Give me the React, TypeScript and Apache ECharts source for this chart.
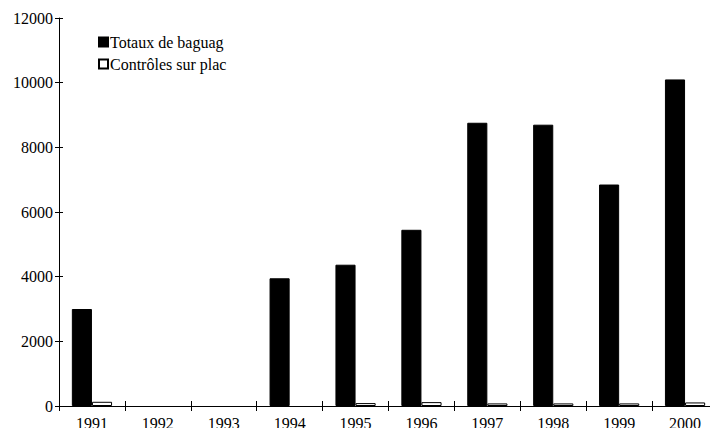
import React, { useEffect, useRef, useState } from "react";
import * as echarts from "echarts";

const years = ["1991", "1992", "1993", "1994", "1995", "1996", "1997", "1998", "1999", "2000"];
const totaux = [3000, null, null, 3950, 4370, 5450, 8760, 8700, 6850, 10100];
const controles = [130, null, null, null, 90, 120, 80, 80, 80, 110];
const seriesNames = ["Totaux de baguages", "Contrôles sur place"];

const FONT = "Liberation Serif";

function buildOption() {
  return {
    animation: false,
    textStyle: { fontFamily: FONT, fontSize: 16, color: "#000" },
    grid: { left: 59, right: 0, top: 18, bottom: 30, containLabel: false },
    legend: {
      orient: "vertical",
      left: 93,
      top: 29,
      itemWidth: 9,
      itemHeight: 9,
      itemGap: 6,
      icon: "rect",
      textStyle: {
        fontFamily: FONT,
        fontSize: 16,
        color: "#000",
        width: 121,
        overflow: "truncate",
        ellipsis: "",
        padding: [0, 0, 0, -3],
      },
      data: seriesNames,
    },
    xAxis: [
      {
        type: "category",
        data: years,
        axisLine: { lineStyle: { color: "#000", width: 1 } },
        axisTick: { show: true, length: 5, lineStyle: { color: "#000" } },
        axisLabel: { fontFamily: FONT, fontSize: 16, color: "#000", margin: 9 },
        splitLine: { show: false },
      },
      {
        type: "category",
        data: years,
        position: "bottom",
        axisLine: { show: false },
        axisTick: { show: true, inside: true, length: 5, lineStyle: { color: "#000" } },
        axisLabel: { show: false },
        splitLine: { show: false },
      },
    ],
    yAxis: [
      {
        type: "value",
        min: 0,
        max: 12000,
        interval: 2000,
        axisLine: { show: true, lineStyle: { color: "#000", width: 1 } },
        axisTick: { show: true, length: 4, lineStyle: { color: "#000" } },
        axisLabel: {
          fontFamily: FONT,
          fontSize: 16,
          color: "#000",
          margin: 6,
          formatter: (v: number) => String(v),
        },
        splitLine: { show: false },
      },
      {
        type: "value",
        min: 0,
        max: 12000,
        interval: 2000,
        position: "left",
        axisLine: { show: false },
        axisTick: { show: true, inside: true, length: 4, lineStyle: { color: "#000" } },
        axisLabel: { show: false },
        splitLine: { show: false },
      },
    ],
    series: [
      {
        name: seriesNames[0],
        type: "bar",
        data: totaux,
        barGap: "0%",
        barCategoryGap: "39%",
        itemStyle: { color: "#000", borderColor: "#000", borderWidth: 1 },
      },
      {
        name: seriesNames[1],
        type: "bar",
        data: controles,
        barGap: "0%",
        barCategoryGap: "39%",
        itemStyle: { color: "#fff", borderColor: "#000", borderWidth: 1 },
      },
    ],
  };
}

export default function App() {
  const ref = useRef<HTMLDivElement>(null);
  const [tick, setTick] = useState(0);
  useEffect(() => {
    if (!ref.current) return;
    const chart = echarts.init(ref.current, null, { renderer: "svg" });
    chart.setOption(buildOption());
    setTick(1);
    let alive = true;
    const redraw = () => {
      if (!alive) return;
      chart.setOption(buildOption(), true);
    };
    if ((document as any).fonts && (document as any).fonts.ready) {
      (document as any).fonts.ready.then(redraw);
    }
    const t = setTimeout(redraw, 50);
    return () => {
      alive = false;
      clearTimeout(t);
      chart.dispose();
    };
  }, []);
  return (
    <div style={{ margin: -8, position: "relative", fontFamily: FONT }} data-t={tick}>
      <div ref={ref} style={{ width: 718, height: 436 }} />
      <span
        aria-hidden="true"
        style={{ position: "absolute", left: 0, top: 0, fontFamily: FONT, fontSize: 16, color: "transparent" }}
      >
        {"\u00a0"}
      </span>
    </div>
  );
}
